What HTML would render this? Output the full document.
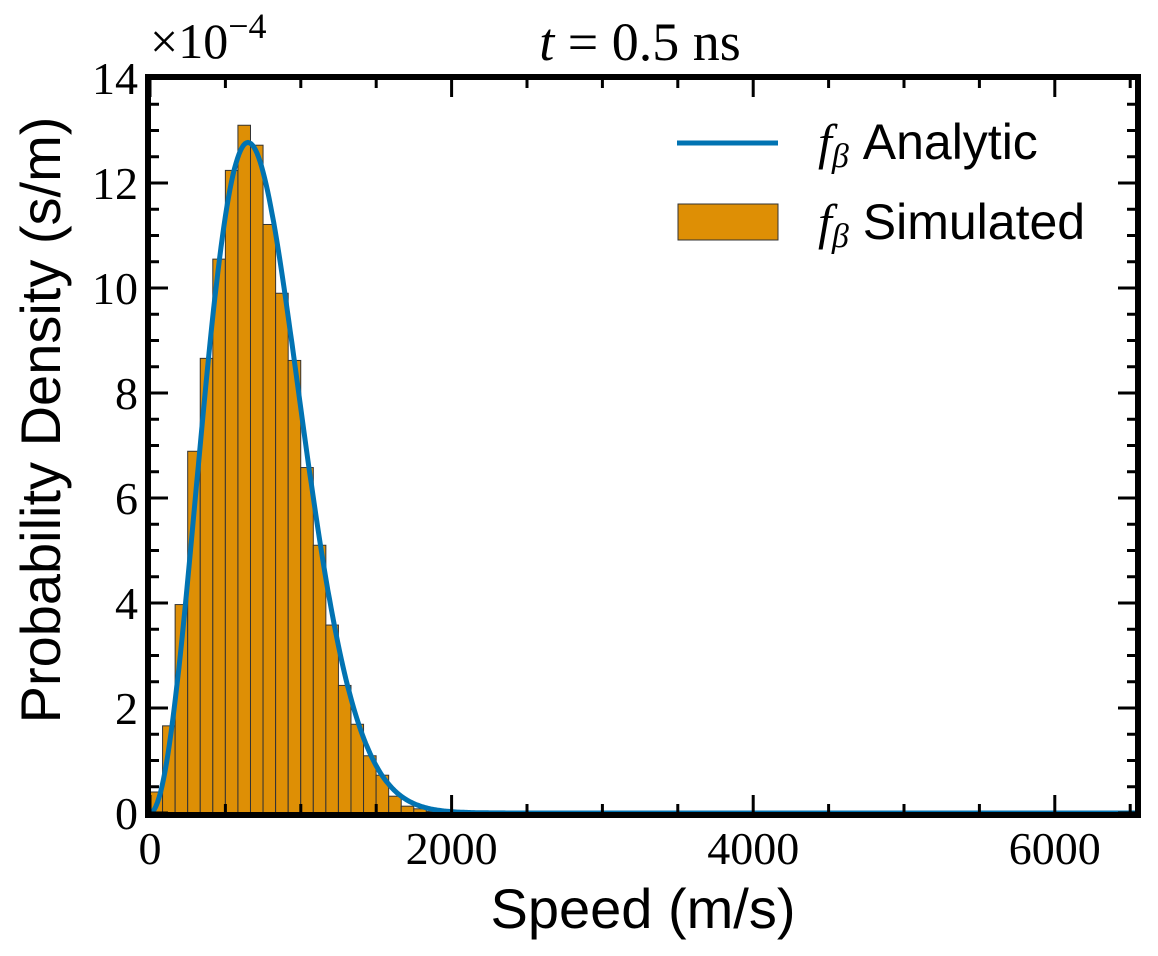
<!DOCTYPE html>
<html><head><meta charset="utf-8"><style>
body{margin:0;background:#fff}
svg{display:block}
.serif{font-family:"Liberation Serif","DejaVu Serif",serif}
.sans{font-family:"Liberation Sans","DejaVu Sans",sans-serif}
</style></head><body>
<svg id="chart" width="1158" height="956" viewBox="0 0 1158 956">
<g id="bars"></g>
<path id="curve" fill="none" stroke="#0173b2" stroke-width="5"/>
<g id="ticks"></g>
<rect x="148" y="77" width="990" height="738" fill="none" stroke="#000" stroke-width="6"/>
<g id="labels" class="serif" font-size="46"></g>
<text x="150" y="58" class="serif" font-size="50">×10<tspan dy="-20" font-size="36">−4</tspan></text>
<text x="640" y="60" class="serif" font-size="54" text-anchor="middle"><tspan font-style="italic">t</tspan> = 0.5 ns</text>
<text x="643" y="928" class="sans" font-size="56" text-anchor="middle">Speed (m/s)</text>
<text transform="translate(60,420) rotate(-90)" class="sans" font-size="56" text-anchor="middle">Probability Density (s/m)</text>
<g>
<line x1="677" y1="143" x2="778" y2="143" stroke="#0173b2" stroke-width="5"/>
<text x="818" y="159" font-size="50"><tspan class="serif" font-style="italic">f<tspan font-size="34" dy="8">β</tspan></tspan><tspan class="sans" dy="-8"> Analytic</tspan></text>
<rect x="678" y="204" width="100" height="36" fill="#de8f05" stroke="#333" stroke-width="1"/>
<text x="818" y="239" font-size="50"><tspan class="serif" font-style="italic">f<tspan font-size="34" dy="8">β</tspan></tspan><tspan class="sans" dy="-8"> Simulated</tspan></text>
</g>
</svg>
<script>
const binWidth = 83.3;
const binCounts = [0.40,1.66,3.97,6.89,8.66,10.55,12.24,13.10,12.72,11.21,9.90,8.62,6.58,5.10,3.58,2.43,1.69,1.09,0.72,0.32,0.13,0.08,0.03,0.02];
const xTicks = [0,2000,4000,6000];
const yTicks = [0,2,4,6,8,10,12,14];
const peakSpeed = 650;
const X0=150, PX=0.1508, Y0=813, PY=52.5;
const xs = v => X0 + v*PX;
const ys = d => Y0 - d*PY;
const NS='http://www.w3.org/2000/svg';
function mk(t,a){const e=document.createElementNS(NS,t);for(const k in a)e.setAttribute(k,a[k]);return e;}
const bars=document.getElementById('bars');
binCounts.forEach((h,i)=>{
  const r=mk('rect',{x:xs(i*binWidth),y:ys(h),width:xs((i+1)*binWidth)-xs(i*binWidth),height:Y0-ys(h),fill:'#de8f05',stroke:'#333','stroke-width':1});
  
  
  bars.appendChild(r);
});
let d='';
for(let v=0;v<=6550;v+=10){
  const f=4/Math.sqrt(Math.PI)*v*v/Math.pow(peakSpeed,3)*Math.exp(-(v*v)/(peakSpeed*peakSpeed))*1e4;
  d+=(v?'L':'M')+xs(v).toFixed(1)+','+ys(f).toFixed(1);
}
document.getElementById('curve').setAttribute('d',d);
const tk=document.getElementById('ticks');
function line(x1,y1,x2,y2,w){const l=mk('line',{x1,y1,x2,y2,stroke:'#000','stroke-width':w});
  
  
  tk.appendChild(l);}
for(let v=0;v<=6500;v+=500){const x=xs(v),L=(v%2000===0)?20:11;line(x,815,x,815-L,3);line(x,77,x,77+L,3);}
for(let y=0;y<=14;y+=0.5){const p=ys(y),L=(y%2===0)?20:11;line(148,p,148+L,p,3);line(1138,p,1138-L,p,3);}
const lab=document.getElementById('labels');
xTicks.forEach(v=>{const t=mk('text',{x:xs(v),y:864,'text-anchor':'middle'});t.textContent=v;
  
  
  lab.appendChild(t);});
yTicks.forEach(v=>{const t=mk('text',{x:138,y:ys(v)+16,'text-anchor':'end'});t.textContent=v;
  
  
  lab.appendChild(t);});
</script>
</body></html>
